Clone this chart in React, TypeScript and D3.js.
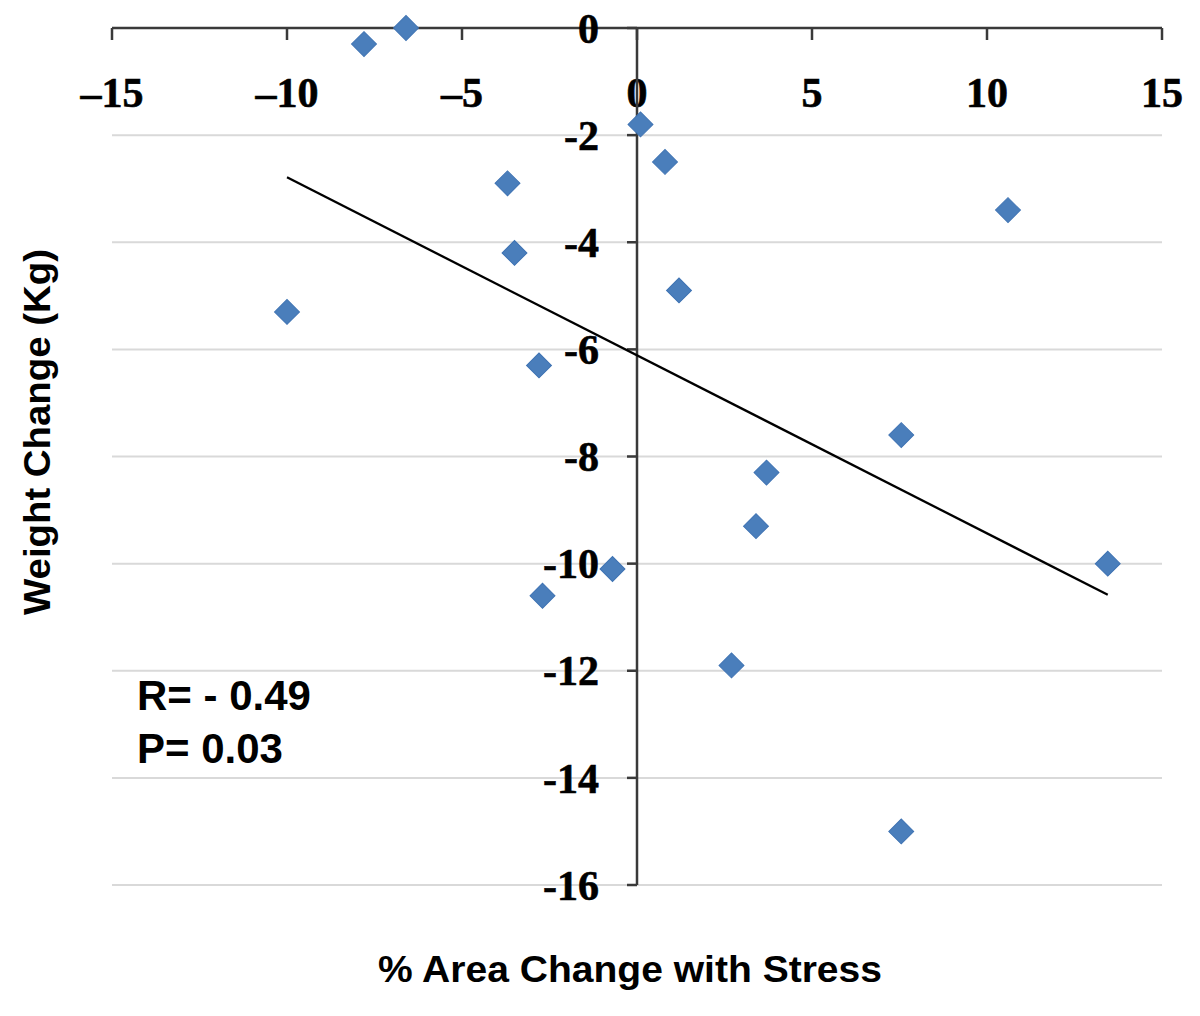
import React from "react";
import * as d3 from "d3";

const areaChange = [-6.6, -7.8, 0.1, 0.8, -3.7, 10.6, -3.5, 1.2, -10.0, -2.8, 7.55, 3.7, 3.4, -0.7, 13.45, -2.7, 2.7, 7.55];
const weightChange = [0, -0.3, -1.8, -2.5, -2.9, -3.4, -4.2, -4.9, -5.3, -6.3, -7.6, -8.3, -9.3, -10.1, -10.0, -10.6, -11.9, -15.0];
const xTicks = [-15, -10, -5, 0, 5, 10, 15];
const yTicks = [0, -2, -4, -6, -8, -10, -12, -14, -16];
const statLines = ["R= - 0.49", "P= 0.03"];
const xTitle = "% Area Change with Stress";
const yTitle = "Weight Change (Kg)";

const W = 1200;
const H = 1016;

export default function App() {
  const x = d3.scaleLinear().domain([-15, 15]).range([112, 1162]);
  const y = d3.scaleLinear().domain([0, -16]).range([28, 885]);

  const pts = areaChange.map((v, i) => ({ x: v, y: weightChange[i] }));
  const mx = d3.mean(areaChange) as number;
  const my = d3.mean(weightChange) as number;
  let sxy = 0, sxx = 0;
  pts.forEach((p) => {
    sxy += (p.x - mx) * (p.y - my);
    sxx += (p.x - mx) * (p.x - mx);
  });
  const slope = sxy / sxx;
  const icpt = my - slope * mx;
  const [xmin, xmax] = d3.extent(areaChange) as [number, number];
  const line = d3.line<[number, number]>().x((d) => x(d[0])).y((d) => y(d[1]));
  const trend = line([
    [xmin, icpt + slope * xmin],
    [xmax, icpt + slope * xmax],
  ]) as string;
  const diamond = d3.symbol().type(d3.symbolSquare).size(310)() as string;

  const tickFont = "'Liberation Serif', 'DejaVu Serif', serif";
  const titleFont = "'Liberation Sans', Arial, sans-serif";
  const axisColor = "#3a3a3a";

  return (
    <svg
      width={W}
      height={H}
      style={{ position: "absolute", left: 0, top: 0, background: "#fff" }}
    >
      <rect x={0} y={0} width={W} height={H} fill="#fff" />
      {yTicks.filter((t) => t !== 0).map((t) => (
        <line key={"g" + t} x1={x(-15)} x2={x(15)} y1={y(t)} y2={y(t)} stroke="#d9d9d9" strokeWidth={2} />
      ))}
      <line x1={x(-15)} x2={x(15)} y1={y(0)} y2={y(0)} stroke={axisColor} strokeWidth={2.5} />
      {xTicks.map((t) => (
        <g key={"xt" + t}>
          <line x1={x(t)} x2={x(t)} y1={y(0)} y2={y(0) + 12} stroke={axisColor} strokeWidth={2.5} />
          <text
            x={x(t)}
            y={107}
            textAnchor="middle"
            fontFamily={tickFont}
            fontWeight="bold"
            fontSize={42}
            fill="#000"
            stroke="#000"
            strokeWidth={0.6}
          >
            {t < 0 ? "\u2013" + Math.abs(t) : String(t)}
          </text>
        </g>
      ))}
      <line x1={x(0)} x2={x(0)} y1={y(0)} y2={y(-16)} stroke={axisColor} strokeWidth={2.5} />
      {yTicks.map((t) => (
        <g key={"yt" + t}>
          <line x1={x(0) - 10} x2={x(0)} y1={y(t)} y2={y(t)} stroke={axisColor} strokeWidth={2.5} />
          <text
            x={599}
            y={y(t)}
            dy="0.35em"
            textAnchor="end"
            fontFamily={tickFont}
            fontWeight="bold"
            fontSize={42}
            fill="#000"
            stroke="#000"
            strokeWidth={0.6}
          >
            {t < 0 ? "-" + Math.abs(t) : String(t)}
          </text>
        </g>
      ))}
      <path d={trend} fill="none" stroke="#000" strokeWidth={2.3} />
      {pts.map((p, i) => (
        <path
          key={"p" + i}
          d={diamond}
          transform={`translate(${x(p.x)},${y(p.y)}) rotate(45)`}
          fill="#4a7ebb"
          stroke="#3f73b3"
          strokeWidth={1}
        />
      ))}
      {statLines.map((s, i) => (
        <text
          key={"s" + i}
          x={137}
          y={710 + i * 53}
          fontFamily={titleFont}
          fontWeight="bold"
          fontSize={42}
          fill="#000"
        >
          {s}
        </text>
      ))}
      <text
        x={630}
        y={982}
        textAnchor="middle"
        fontFamily={titleFont}
        fontWeight="bold"
        fontSize={36}
        textLength={504}
        lengthAdjust="spacingAndGlyphs"
        fill="#000"
      >
        {xTitle}
      </text>
      <text
        transform={`translate(50,432) rotate(-90)`}
        textAnchor="middle"
        fontFamily={titleFont}
        fontWeight="bold"
        fontSize={36}
        textLength={366}
        lengthAdjust="spacingAndGlyphs"
        fill="#000"
      >
        {yTitle}
      </text>
    </svg>
  );
}
